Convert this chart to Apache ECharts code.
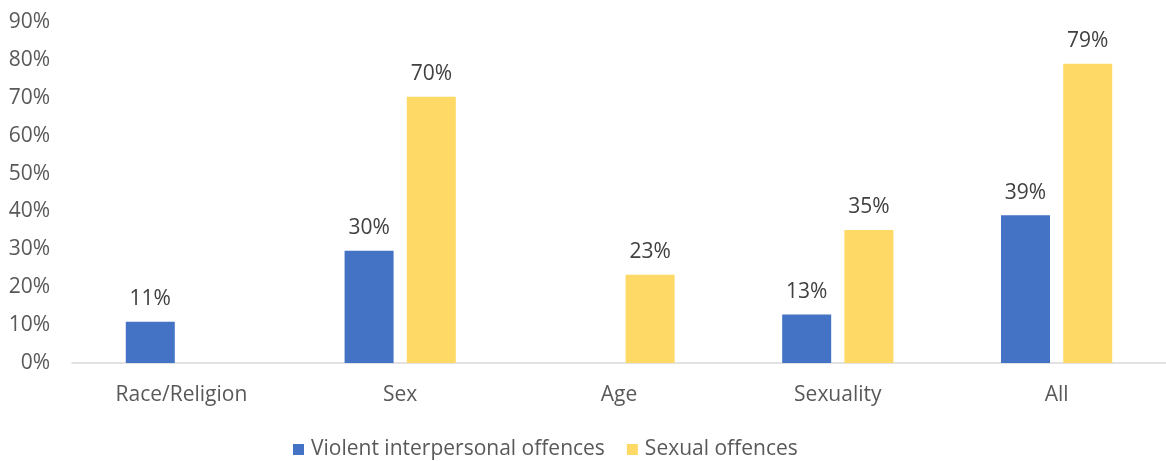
<!DOCTYPE html>
<html>
<head>
<meta charset="utf-8">
<script src="https://cdn.jsdelivr.net/npm/echarts@6/dist/echarts.min.js"></script>
<style>html,body{margin:0;padding:0;background:#fff}#c{width:1166px;height:461px}</style>
</head>
<body>
<div id="c"></div>
<script>
const categories = ['Race/Religion', 'Sex', 'Age', 'Sexuality', 'All'];
const violent = [10.9, 29.6, null, 12.8, 39.0];
const sexual = [null, 70.3, 23.3, 35.1, 79.0];
const seriesNames = ['Violent interpersonal offences', 'Sexual offences'];
const FONT = 'Open Sans';
const FS = 21;

const chart = echarts.init(document.getElementById('c'), null, {renderer: 'canvas'});
const labelCfg = {
  show: true, position: 'top', distance: 12,
  color: '#404040', fontFamily: FONT, fontSize: FS,
  formatter: p => Math.round(p.value) + '%'
};
chart.setOption({
  animation: false,
  grid: {left: 72, right: -6, top: 22, bottom: 98, containLabel: false},
  legend: {
    top: 439, left: 293, itemWidth: 11, itemHeight: 11, itemGap: 22,
    icon: 'rect', padding: 0,
    textStyle: {color: '#595959', fontFamily: FONT, fontSize: FS, padding: [0,0,0,2]},
    data: seriesNames
  },
  xAxis: {
    type: 'category', data: categories,
    axisLine: {lineStyle: {color: '#D9D9D9', width: 1.5}},
    axisTick: {show: false},
    axisLabel: {color: '#595959', fontFamily: FONT, fontSize: FS, margin: 22}
  },
  yAxis: {
    type: 'value', min: 0, max: 90, interval: 10,
    axisLine: {show: false}, axisTick: {show: false},
    splitLine: {show: false},
    axisLabel: {color: '#595959', fontFamily: FONT, fontSize: FS, margin: 22, formatter: v => v + '%'}
  },
  series: [
    {name: seriesNames[0], type: 'bar', data: violent, barWidth: 49, barGap: '27%',
     itemStyle: {color: '#4472C4'}, label: labelCfg},
    {name: seriesNames[1], type: 'bar', data: sexual, barWidth: 49,
     itemStyle: {color: '#FFD966'}, label: labelCfg}
  ]
});
</script>
</body>
</html>
